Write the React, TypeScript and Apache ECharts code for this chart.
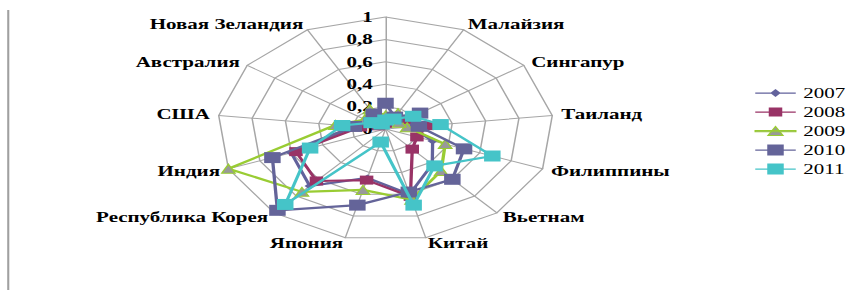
import React, { useEffect, useRef } from "react";
import * as echarts from "echarts";

// Categories listed clockwise from the top axis (the top axis has no label)
const categories = [
  "",
  "Малайзия",
  "Сингапур",
  "Таиланд",
  "Филиппины",
  "Вьетнам",
  "Китай",
  "Япония",
  "Республика Корея",
  "Индия",
  "США",
  "Австралия",
  "Новая Зеландия",
];

const seriesNames = ["2007", "2008", "2009", "2010", "2011"];

const v2007 = [0.1, 0.08, 0.1, 0.15, 0.3, 0.42, 0.6, 0.45, 0.68, 0.6, 0.18, 0.06, 0.08];
const v2008 = [0.05, 0.1, 0.15, 0.25, 0.2, 0.24, 0.62, 0.47, 0.62, 0.57, 0.15, 0.05, 0.05];
const v2009 = [0.12, 0.16, 0.1, 0.13, 0.38, 0.5, 0.65, 0.56, 0.75, 1.0, 0.3, 0.15, 0.2];
const v2010 = [0.23, 0.12, 0.25, 0.2, 0.5, 0.6, 0.58, 0.7, 0.97, 0.72, 0.19, 0.1, 0.15];
const v2011 = [0.08, 0.1, 0.2, 0.33, 0.68, 0.44, 0.7, 0.12, 0.9, 0.48, 0.26, 0.1, 0.05];

const axisMin = 0;
const axisMax = 1;

// ECharts lays radar indicators counter-clockwise; reorder to get clockwise
const reorder = <T,>(arr: T[]): T[] => [arr[0], ...arr.slice(1).reverse()];

const FONT = "'Liberation Serif', 'Times New Roman', serif";

export default function App() {
  const ref = useRef<HTMLDivElement>(null);

  useEffect(() => {
    if (!ref.current) return;
    const chart = echarts.init(ref.current, null, { renderer: "svg" });

    const indicators = reorder(categories).map((name, i) => {
      const ind: any = { name, min: axisMin, max: axisMax };
      if (i === 0) {
        ind.axisLabel = { show: true };
      }
      return ind;
    });

    const styles = [
      { color: "#62629C", symbol: "diamond", size: 7, fill: "#62629C", border: "#62629C" },
      { color: "#993366", symbol: "rect", size: 9, fill: "#993366", border: "#993366" },
      { color: "#99CC33", symbol: "triangle", size: 9, fill: "#999999", border: "#99CC33" },
      { color: "#646499", symbol: "rect", size: 11, fill: "#646499", border: "#646499" },
      { color: "#45C4C8", symbol: "rect", size: 11, fill: "#45C4C8", border: "#45C4C8" },
    ];
    const values = [v2007, v2008, v2009, v2010, v2011];

    const legendIcons = [
      "path://M0,5.5h27v1.2h-27z M13.5,2l3.5,4l-3.5,4l-3.5,-4z",
      "path://M0,5.5h27v1.2h-27z M9,1.5h9v9h-9z",
      "path://M0,5.5h27v1.2h-27z M13.5,1.5l5,9h-10z",
      "path://M0,5.5h27v1.2h-27z M8,0.5h11v11h-11z",
      "path://M0,5.5h27v1.2h-27z M8,0.5h11v11h-11z",
    ];

    const series = seriesNames.map((name, i) => ({
      type: "radar" as const,
      name,
      z: 2 + i,
      symbol: styles[i].symbol,
      symbolSize: styles[i].size,
      lineStyle: { color: styles[i].color, width: 2.2 },
      itemStyle: {
        color: styles[i].fill,
        borderColor: styles[i].border,
        borderWidth: i === 2 ? 1 : 0,
      },
      data: [{ name, value: reorder(values[i]) }],
    }));

    chart.setOption({
      animation: false,
      backgroundColor: "#ffffff",
      legend: {
        orient: "vertical",
        left: 498,
        top: 81,
        itemWidth: 27,
        itemHeight: 12,
        itemGap: 5,
        textStyle: { fontFamily: FONT, fontSize: 14, color: "#000" },
        data: seriesNames.map((n, i) => ({
          name: n,
          icon: legendIcons[i],
          itemStyle:
            i === 2
              ? { color: "#999999", borderColor: "#99CC33", borderWidth: 1 }
              : { color: styles[i].color, borderWidth: 0 },
        })),
      },
      radar: {
        center: [257, 129],
        radius: 112,
        startAngle: 90,
        shape: "polygon",
        splitNumber: 5,
        nameGap: 6,
        indicator: indicators,
        axisName: {
          color: "#000",
          fontFamily: FONT,
          fontSize: 14,
          fontWeight: "bold",
        },
        axisLine: { lineStyle: { color: "#A6A6A6", width: 1 } },
        splitLine: { lineStyle: { color: "#A6A6A6", width: 1 } },
        splitArea: { show: false },
        axisTick: { show: false },
        axisLabel: {
          show: false,
          color: "#000",
          fontFamily: FONT,
          fontSize: 14,
          fontWeight: "bold",
          margin: 8.5,
          formatter: (v: number) => String(Math.round(v * 10) / 10).replace(".", ","),
        },
      },
      graphic: [
        {
          type: "line",
          shape: { x1: 5.5, y1: 10, x2: 5.5, y2: 290 },
          style: { stroke: "#A0A0A0", lineWidth: 1.4 },
        },
      ],
      series,
    });

    return () => chart.dispose();
  }, []);

  return (
    <div
      ref={ref}
      style={{
        position: "absolute",
        left: 0,
        top: 0,
        width: 568,
        height: 291,
        transform: "scaleX(1.5)",
        transformOrigin: "0 0",
      }}
    />
  );
}
